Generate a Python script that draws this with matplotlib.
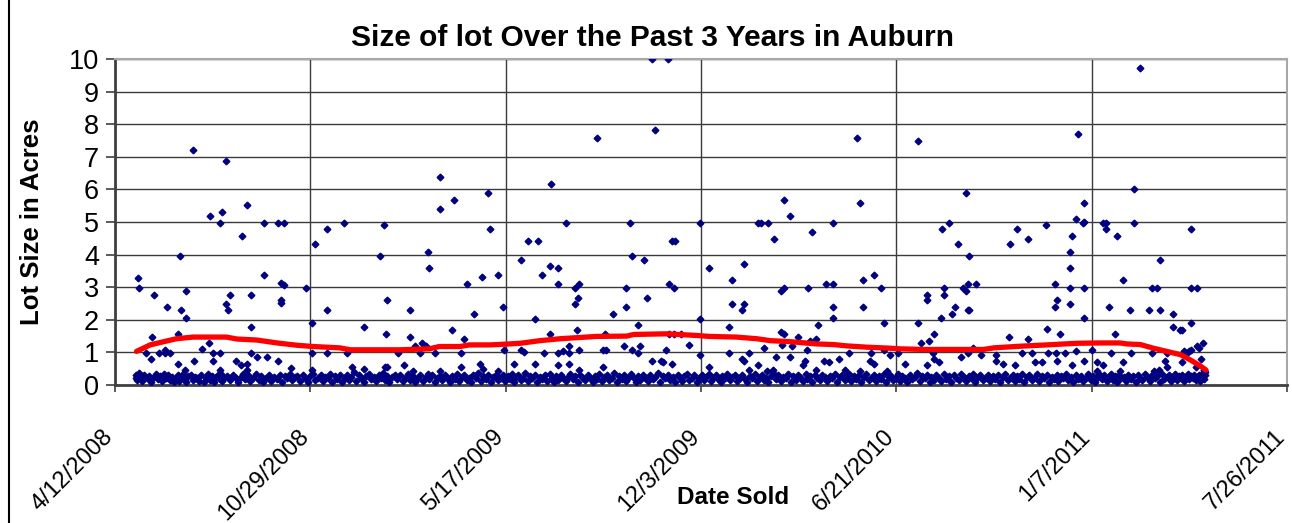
import datetime as dt
import matplotlib
matplotlib.use("Agg")
import matplotlib.pyplot as plt
import matplotlib.dates as mdates
import matplotlib.transforms as mtransforms
from matplotlib.ticker import FuncFormatter
from matplotlib.lines import Line2D

plt.rcParams['font.family'] = ['Liberation Sans', 'DejaVu Sans']

start = dt.date(2008, 4, 12)

# sales above the dense band: (days after 4/12/2008, acres)
spread_sales = [
    (24, 3.27), (25, 2.98), (32, 0.97), (37, 0.81), (38, 1.47), (40, 2.77), (45, 0.97), (51, 1.08), (51, 0.97),
    (53, 2.39), (56, 0.97), (65, 1.57), (65, 0.65), (67, 3.97), (68, 2.29), (72, 0.47), (73, 2.89), (73, 2.06),
    (80, 7.21), (81, 0.75), (89, 1.09), (96, 1.29), (97, 5.19), (100, 0.97), (100, 0.75), (108, 4.96), (108, 0.97),
    (108, 0.47), (110, 5.30), (114, 6.88), (114, 2.50), (116, 2.29), (118, 2.77), (124, 0.75), (129, 0.6),
    (130, 4.58), (135, 5.52), (135, 0.65), (135, 0.47), (139, 2.77), (139, 1.79), (139, 0.97), (145, 0.86),
    (153, 4.96), (153, 3.38), (156, 0.86), (167, 4.96), (167, 0.75), (170, 3.12), (170, 2.62), (170, 2.51),
    (173, 4.96), (173, 3.06), (180, 0.53), (196, 2.98), (202, 1.91), (202, 0.97), (202, 0.47), (205, 4.32),
    (217, 4.80), (217, 2.29), (217, 0.97), (234, 4.96), (238, 0.97), (243, 0.54), (255, 1.79), (255, 0.49),
    (271, 3.97), (275, 4.92), (276, 0.54), (277, 1.57), (279, 2.62), (279, 0.54), (290, 0.97), (296, 0.6),
    (302, 2.29), (302, 1.47), (305, 0.42), (307, 1.2), (312, 0.97), (314, 1.29), (318, 1.2), (320, 4.09),
    (322, 3.6), (328, 0.97), (333, 6.39), (333, 5.41), (333, 0.42), (345, 1.68), (347, 5.68), (354, 0.97),
    (354, 0.54), (357, 1.41), (360, 3.11), (368, 2.17), (374, 0.65), (376, 3.32), (377, 0.49), (382, 5.90),
    (384, 4.80), (392, 3.38), (392, 0.42), (397, 2.39), (398, 1.08),
    (409, 0.65), (416, 3.82), (416, 1.08), (419, 1.0), (423, 4.42), (430, 2.01), (430, 0.65), (433, 4.42),
    (437, 3.38), (439, 0.97), (445, 3.66), (445, 1.57), (446, 6.17), (454, 3.6), (454, 3.11), (454, 0.97),
    (454, 0.6), (459, 1.03), (462, 4.96), (465, 1.19), (465, 0.97), (465, 0.65), (471, 2.98), (471, 2.5),
    (473, 1.68), (474, 2.67), (475, 3.11), (475, 1.08), (475, 0.47), (494, 7.59), (500, 1.08), (500, 0.54),
    (502, 1.57), (503, 1.08), (510, 2.17), (521, 1.19), (523, 2.98), (523, 2.39), (527, 4.96), (529, 3.97),
    (529, 1.08), (535, 1.85), (535, 0.97), (538, 1.19), (542, 3.82), (545, 2.67), (550, 10.0), (550, 0.75),
    (553, 7.82), (559, 0.75), (561, 0.7), (564, 1.08), (566, 10.0), (567, 3.11), (567, 1.57), (570, 4.42),
    (570, 0.65), (572, 2.98), (572, 1.57), (573, 4.42), (580, 1.57), (588, 1.24), (599, 4.96), (599, 2.01),
    (599, 0.92),
    (608, 3.6), (608, 0.54), (629, 1.79), (629, 0.97), (632, 3.22), (632, 2.5), (642, 2.29), (642, 0.81),
    (644, 3.71), (644, 2.5), (644, 0.75), (649, 0.97), (649, 0.47), (658, 4.96), (658, 0.6), (661, 4.96),
    (665, 1.14), (668, 0.42), (669, 4.96), (674, 0.47), (675, 4.47), (677, 0.86), (682, 2.89), (682, 1.62),
    (683, 1.24), (685, 5.68), (685, 2.98), (685, 1.57), (691, 5.19), (691, 0.86), (693, 1.19), (699, 1.47),
    (704, 0.6), (706, 0.75), (709, 1.08), (710, 2.98), (712, 1.35), (714, 4.69), (718, 1.41), (718, 0.47),
    (720, 1.85), (726, 0.75), (728, 3.11), (731, 0.7), (735, 4.96), (735, 3.11), (735, 2.39), (735, 2.06),
    (741, 0.81), (747, 0.47), (752, 0.97), (760, 7.59), (763, 5.57), (763, 0.42), (766, 3.22), (766, 2.39),
    (773, 0.75), (774, 0.97), (777, 3.38), (777, 0.65), (784, 2.98), (787, 1.91), (787, 1.08), (790, 0.42),
    (794, 0.92),
    (802, 0.97), (809, 0.65), (822, 7.49), (822, 1.91), (825, 1.29), (831, 2.77), (831, 2.62), (831, 0.6),
    (833, 1.35), (838, 0.97), (839, 1.57), (839, 0.81), (844, 0.7), (846, 2.06), (847, 4.80), (849, 2.98),
    (849, 2.77), (854, 4.96), (857, 2.17), (860, 2.39), (863, 4.32), (866, 0.86), (868, 2.98), (871, 2.89),
    (871, 5.90), (873, 3.11), (873, 2.29), (873, 0.97), (874, 3.97), (874, 2.29), (879, 1.14), (882, 3.11),
    (887, 0.92), (902, 0.92), (902, 0.75), (909, 0.65), (915, 1.47), (916, 4.32), (922, 0.6), (924, 4.80),
    (929, 0.97), (935, 4.47), (935, 1.41), (939, 0.97), (942, 0.7), (949, 0.7), (953, 4.91), (954, 1.73),
    (955, 0.97), (962, 3.11), (962, 2.39), (963, 0.97), (965, 2.62), (965, 0.75), (968, 1.57), (973, 0.97),
    (978, 4.09), (978, 3.6), (978, 2.98), (978, 2.5), (980, 4.58), (980, 0.6), (984, 5.08), (984, 1.03),
    (986, 7.70), (991, 4.96), (992, 5.57), (992, 5.0), (992, 2.98), (992, 2.06), (992, 0.75), (1000, 1.08),
    (1005, 0.7), (1005, 0.42), (1012, 4.96), (1012, 0.6), (1015, 4.96), (1015, 4.8), (1018, 2.39), (1020, 0.97),
    (1024, 1.57), (1026, 4.58), (1029, 0.42), (1032, 3.22), (1032, 0.7), (1039, 2.29), (1040, 0.97),
    (1043, 6.01), (1043, 4.96), (1050, 9.72), (1059, 2.29), (1062, 2.98), (1062, 0.97), (1064, 0.42),
    (1067, 2.98), (1069, 0.47), (1070, 3.82), (1070, 2.29), (1075, 0.75), (1077, 0.97), (1077, 0.54),
    (1083, 2.17), (1083, 1.79), (1090, 1.68), (1093, 1.68), (1093, 0.7), (1095, 1.03), (1098, 0.97),
    (1100, 1.03), (1102, 4.80), (1102, 2.98), (1102, 1.91), (1102, 1.08), (1107, 0.54), (1108, 2.98),
    (1108, 1.19), (1110, 1.14), (1112, 0.81), (1114, 1.29), (1115, 0.47),
]

# the dense band of small lots near the bottom
small_sales = [
    (21, 0.32), (22, 0.22), (23, 0.15), (25, 0.38), (26, 0.27), (28, 0.12), (30, 0.3), (33, 0.2), (35, 0.28),
    (37, 0.1), (40, 0.25), (42, 0.33), (44, 0.18), (46, 0.28), (48, 0.12), (50, 0.35), (52, 0.22), (54, 0.3),
    (56, 0.15), (58, 0.25), (60, 0.08), (62, 0.2), (64, 0.3), (66, 0.12), (68, 0.22), (70, 0.35), (72, 0.18),
    (73, 0.1), (75, 0.28), (78, 0.3), (80, 0.15), (82, 0.25), (84, 0.2), (86, 0.12), (88, 0.3), (91, 0.08),
    (93, 0.22), (95, 0.33), (97, 0.15), (99, 0.28), (101, 0.1), (103, 0.25), (105, 0.3), (107, 0.18),
    (109, 0.35), (110, 0.12), (112, 0.22), (115, 0.28), (118, 0.15), (121, 0.3), (124, 0.2), (126, 0.1),
    (129, 0.25), (131, 0.33), (133, 0.18), (136, 0.3), (138, 0.12), (141, 0.22), (144, 0.35), (147, 0.15),
    (150, 0.28), (152, 0.08), (155, 0.2), (158, 0.3), (160, 0.12), (163, 0.25), (166, 0.18), (169, 0.3),
    (171, 0.1), (174, 0.28), (176, 0.2), (179, 0.33), (181, 0.15), (184, 0.25), (186, 0.28), (189, 0.12),
    (192, 0.3), (195, 0.2), (198, 0.1), (200, 0.28), (203, 0.35), (205, 0.15), (208, 0.22),
    (211, 0.3), (213, 0.12), (215, 0.25), (218, 0.2), (220, 0.35), (222, 0.1), (225, 0.28), (227, 0.18),
    (230, 0.3), (232, 0.08), (235, 0.22), (238, 0.32), (240, 0.15), (242, 0.25), (245, 0.4), (247, 0.12),
    (250, 0.3), (252, 0.2), (255, 0.1), (257, 0.28), (260, 0.35), (262, 0.18), (265, 0.25), (267, 0.12),
    (270, 0.3), (272, 0.22), (274, 0.38), (276, 0.15), (279, 0.28), (281, 0.1), (284, 0.25), (287, 0.32),
    (289, 0.18), (292, 0.3), (295, 0.12), (297, 0.22), (300, 0.35), (302, 0.15), (305, 0.28), (307, 0.08),
    (310, 0.2), (312, 0.3), (315, 0.12), (318, 0.25), (320, 0.35), (322, 0.18), (325, 0.3), (328, 0.1),
    (330, 0.22), (333, 0.28), (335, 0.15), (338, 0.32), (340, 0.2), (343, 0.1), (345, 0.28), (348, 0.18),
    (350, 0.35), (352, 0.12), (355, 0.25), (357, 0.3), (360, 0.15), (362, 0.22), (365, 0.1), (367, 0.3),
    (370, 0.2), (372, 0.38), (375, 0.12), (377, 0.28), (380, 0.18), (382, 0.3), (385, 0.1), (387, 0.25),
    (390, 0.32), (392, 0.15), (395, 0.22), (397, 0.3), (399, 0.12),
    (402, 0.28), (404, 0.18), (406, 0.35), (409, 0.1), (411, 0.25), (413, 0.3), (416, 0.15), (418, 0.22),
    (420, 0.38), (423, 0.12), (425, 0.28), (427, 0.2), (430, 0.32), (432, 0.1), (435, 0.25), (437, 0.18),
    (440, 0.3), (442, 0.12), (445, 0.35), (447, 0.22), (449, 0.08), (452, 0.28), (454, 0.15), (457, 0.3),
    (459, 0.2), (462, 0.12), (464, 0.25), (466, 0.35), (469, 0.18), (471, 0.28), (474, 0.1), (476, 0.3),
    (479, 0.22), (481, 0.15), (484, 0.32), (486, 0.2), (489, 0.1), (491, 0.28), (494, 0.18), (496, 0.35),
    (499, 0.12), (501, 0.25), (504, 0.3), (506, 0.15), (509, 0.22), (511, 0.38), (514, 0.1), (516, 0.28),
    (519, 0.18), (521, 0.3), (523, 0.12), (526, 0.25), (528, 0.35), (531, 0.2), (533, 0.1), (536, 0.28),
    (538, 0.15), (541, 0.32), (543, 0.22), (546, 0.12), (548, 0.3), (551, 0.18), (553, 0.25), (556, 0.38),
    (558, 0.1), (561, 0.28), (563, 0.2), (566, 0.32), (568, 0.15), (571, 0.25), (573, 0.1), (576, 0.3),
    (578, 0.2), (581, 0.12), (583, 0.28), (586, 0.35), (588, 0.15), (591, 0.22), (593, 0.3), (596, 0.08),
    (598, 0.2),
    (601, 0.3), (603, 0.15), (605, 0.25), (608, 0.35), (610, 0.12), (612, 0.22), (615, 0.3), (617, 0.18),
    (620, 0.1), (622, 0.28), (625, 0.2), (627, 0.35), (630, 0.15), (632, 0.25), (635, 0.3), (637, 0.12),
    (640, 0.22), (642, 0.32), (645, 0.18), (647, 0.08), (650, 0.28), (652, 0.2), (655, 0.35), (657, 0.12),
    (660, 0.25), (662, 0.3), (665, 0.15), (667, 0.22), (669, 0.1), (672, 0.28), (674, 0.38), (677, 0.18),
    (679, 0.3), (682, 0.12), (684, 0.25), (687, 0.2), (689, 0.33), (692, 0.1), (694, 0.28), (697, 0.15),
    (699, 0.3), (702, 0.22), (704, 0.12), (707, 0.35), (709, 0.18), (712, 0.28), (714, 0.1), (717, 0.3),
    (719, 0.2), (722, 0.15), (724, 0.32), (727, 0.25), (729, 0.12), (732, 0.28), (734, 0.2), (737, 0.35),
    (739, 0.1), (742, 0.25), (744, 0.3), (747, 0.15), (749, 0.22), (752, 0.33), (754, 0.12), (757, 0.28),
    (759, 0.18), (762, 0.3), (764, 0.1), (767, 0.25), (769, 0.35), (772, 0.15), (774, 0.22), (777, 0.3),
    (779, 0.12), (782, 0.28), (784, 0.18), (787, 0.35), (789, 0.1), (792, 0.25), (794, 0.3), (797, 0.15),
    (799, 0.22),
    (802, 0.35), (804, 0.12), (806, 0.28), (809, 0.2), (811, 0.1), (814, 0.3), (816, 0.18), (819, 0.25),
    (821, 0.38), (824, 0.12), (826, 0.28), (829, 0.2), (831, 0.32), (834, 0.1), (836, 0.25), (839, 0.15),
    (841, 0.3), (844, 0.22), (846, 0.12), (849, 0.35), (851, 0.18), (854, 0.28), (856, 0.1), (859, 0.3),
    (861, 0.2), (864, 0.15), (866, 0.33), (869, 0.25), (871, 0.12), (874, 0.28), (876, 0.2), (879, 0.35),
    (881, 0.08), (884, 0.25), (886, 0.3), (889, 0.15), (891, 0.22), (894, 0.32), (896, 0.12), (899, 0.28),
    (901, 0.18), (904, 0.3), (906, 0.1), (909, 0.25), (911, 0.35), (914, 0.15), (916, 0.22), (919, 0.3),
    (921, 0.12), (924, 0.28), (926, 0.18), (929, 0.33), (931, 0.1), (934, 0.25), (936, 0.3), (939, 0.15),
    (941, 0.22), (944, 0.35), (946, 0.12), (949, 0.28), (951, 0.2), (954, 0.3), (956, 0.1), (959, 0.25),
    (961, 0.18), (964, 0.32), (966, 0.12), (969, 0.28), (971, 0.2), (974, 0.35), (976, 0.15), (979, 0.25),
    (981, 0.1), (984, 0.3), (986, 0.18), (989, 0.28), (991, 0.12), (994, 0.22), (996, 0.35), (999, 0.15),
    (1001, 0.28), (1003, 0.1), (1006, 0.25), (1008, 0.33), (1011, 0.18), (1013, 0.3), (1016, 0.12),
    (1018, 0.22), (1020, 0.35), (1022, 0.15), (1024, 0.28), (1026, 0.1), (1028, 0.3), (1030, 0.2),
    (1033, 0.25), (1035, 0.12), (1037, 0.32), (1040, 0.18), (1042, 0.28), (1045, 0.1), (1047, 0.3),
    (1050, 0.22), (1052, 0.15), (1055, 0.35), (1057, 0.25), (1060, 0.12), (1062, 0.3), (1065, 0.2),
    (1067, 0.28), (1070, 0.1), (1072, 0.33), (1074, 0.18), (1077, 0.25), (1079, 0.3), (1081, 0.12),
    (1083, 0.22), (1085, 0.35), (1087, 0.15), (1089, 0.28), (1091, 0.2), (1093, 0.3), (1095, 0.12),
    (1097, 0.25), (1099, 0.35), (1100, 0.18), (1102, 0.28), (1104, 0.2), (1105, 0.32), (1107, 0.15),
    (1108, 0.25), (1110, 0.3), (1111, 0.12), (1112, 0.22), (1113, 0.35), (1114, 0.28), (1115, 0.18),
    (1116, 0.3), (1116, 0.4), (1115, 0.45),
]

# moving trend (red line)
trend_days = [22, 36, 50, 63, 80, 97, 114, 125, 145, 166, 186, 203, 230, 241, 292, 322, 332, 353, 363, 384,
              404, 415, 435, 456, 493, 524, 531, 565, 595, 609, 636, 657, 671, 691, 718, 736, 749, 770, 793, 803,
              828, 889, 900, 927, 954, 985, 1009, 1029, 1036, 1050, 1063, 1077, 1091, 1101, 1111, 1117]
trend_acres = [1.03, 1.23, 1.33, 1.42, 1.47, 1.47, 1.47, 1.41, 1.38, 1.29, 1.22, 1.18, 1.14, 1.08, 1.08, 1.11,
               1.18, 1.18, 1.23, 1.23, 1.26, 1.28, 1.36, 1.42, 1.49, 1.5, 1.55, 1.57, 1.52, 1.49, 1.47, 1.42,
               1.36, 1.33, 1.26, 1.24, 1.2, 1.16, 1.13, 1.11, 1.09, 1.09, 1.14, 1.19, 1.23, 1.28, 1.29, 1.29,
               1.26, 1.24, 1.13, 1.03, 0.93, 0.77, 0.59, 0.46]

tick_days = [0, 200, 400, 600, 800, 1000, 1200]
y_ticks = list(range(0, 11))


def to_date(d):
    return start + dt.timedelta(days=d)


all_sales = spread_sales + small_sales
sale_dates = [to_date(d) for d, a in all_sales]
sale_acres = [a for d, a in all_sales]
trend_dates = [to_date(d) for d in trend_days]

W, H = 1292, 523
fig = plt.figure(figsize=(W / 100, H / 100), dpi=100)
ax = fig.add_axes([115 / W, 1 - 385 / H, (1287 - 115) / W, (385 - 59) / H])

ax.plot(sale_dates, sale_acres, linestyle='none', marker='D', ms=3.4, color='#000080', mec='#000080', zorder=3)
ax.plot(trend_dates, trend_acres, color='#ff0000', lw=3.8, solid_capstyle='round', zorder=4)

ax.set_xlim(mdates.date2num(to_date(0)), mdates.date2num(to_date(1200)))
ax.set_ylim(0, 10)
ax.set_xticks([mdates.date2num(to_date(d)) for d in tick_days])
ax.xaxis.set_major_formatter(FuncFormatter(
    lambda v, p: "{}/{}/{}".format(mdates.num2date(v).month, mdates.num2date(v).day, mdates.num2date(v).year)))
ax.set_yticks(y_ticks)

ax.grid(True, color='#3a3a3a', lw=1.0)
ax.set_axisbelow(True)

for side in ['left', 'bottom']:
    ax.spines[side].set_color('#404040')
    ax.spines[side].set_linewidth(2)
for side in ['top', 'right']:
    ax.spines[side].set_color('#a8a8a8')
    ax.spines[side].set_linewidth(1.5)

ax.tick_params(axis='y', direction='out', length=6.5, width=1.2, pad=5, labelsize=19.5, color='#404040')
ax.tick_params(axis='x', direction='out', length=5, width=1.2, pad=30, labelsize=17, color='#404040')
shift = mtransforms.ScaledTranslation(-5 / 100, 0, fig.dpi_scale_trans)
for lbl in ax.get_xticklabels():
    lbl.set_rotation(45)
    lbl.set_ha('right')
    lbl.set_va('center')
    lbl.set_rotation_mode('anchor')
    lbl.set_transform(lbl.get_transform() + shift)

fig.text(653 / W, 1 - 38 / H, "Size of lot Over the Past 3 Years in Auburn", fontsize=21.5,
         fontweight='bold', ha='center', va='center')
fig.text(32 / W, 1 - 222 / H, "Lot Size in Acres", fontsize=18.5, fontweight='bold', rotation=90,
         ha='center', va='center')
fig.text(733 / W, 1 - 498 / H, "Date Sold", fontsize=17.5, fontweight='bold', ha='center', va='center')

# chart area border on the left
fig.add_artist(Line2D([9 / W, 9 / W], [0, 1], transform=fig.transFigure, color='black', lw=1.5))

fig.savefig("out.png", dpi=100)
